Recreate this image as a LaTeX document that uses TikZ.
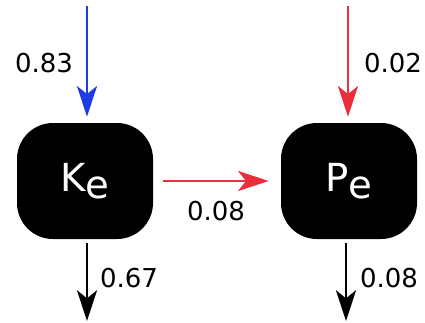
\documentclass[tikz,border=0pt]{standalone}
\usepackage{fontspec}
\setmainfont{DejaVu Sans}
\usetikzlibrary{arrows.meta}
\definecolor{fblue}{RGB}{30,60,230}
\definecolor{fred}{RGB}{235,45,60}
\tikzset{
  statebox/.style={fill=black, text=white, rounded corners=27pt, minimum width=102pt, minimum height=87pt, inner sep=0pt, font=\fontsize{29}{32}\selectfont},
  flow/.style={line width=2.1pt, -{Stealth[length=23pt, width=15pt, inset=6pt]}},
  lab/.style={font=\fontsize{19.5}{22}\selectfont, inner sep=0pt},
}
\begin{document}
\begin{tikzpicture}[x=0.75pt, y=-0.75pt]
\useasboundingbox (0,0) rectangle (425,322);
\node[statebox] (K) at (85,181) {K\raisebox{-0.35ex}{e}};
\node[statebox] (P) at (349,181) {P\raisebox{-0.35ex}{e}};
\coordinate (kin) at (87,6);
\coordinate (pin) at (348,6);
\coordinate (kout) at (87,321);
\coordinate (pout) at (346,321);
\draw[flow, fblue, shorten >=4.5pt] (kin) -- (kin |- K.north);
\draw[flow, fred, shorten >=4.5pt] (pin) -- (pin |- P.north);
\draw[flow, fred, shorten <=7pt, shorten >=9pt] (K.east |- 0,181) -- (P.west |- 0,181);
\draw[flow, black, shorten <=3pt] (kout |- K.south) -- (kout);
\draw[flow, black, shorten <=3pt] (pout |- P.south) -- (pout);
\node[lab] (l1) at (44,63) {0.83};
\node[lab] (l2) at (393,63) {0.02};
\node[lab] (l3) at (216,211) {0.08};
\node[lab] (l4) at (129,278) {0.67};
\node[lab] (l5) at (389,278) {0.08};
\end{tikzpicture}
\end{document}
